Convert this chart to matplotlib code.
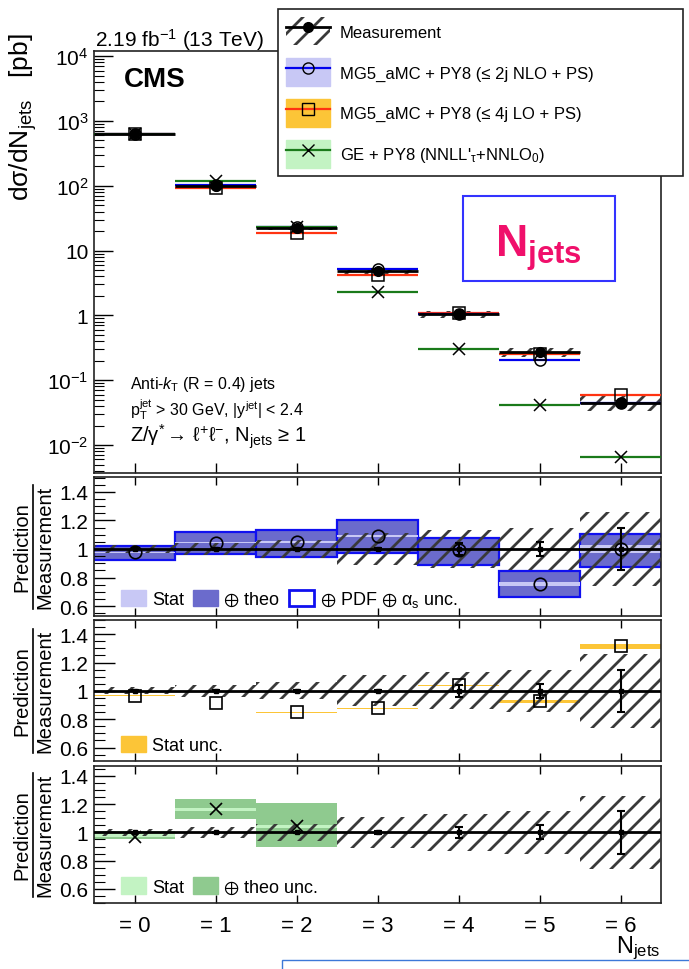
#CMS Z+jets: exclusive jet multiplicity with three ratio panels
import numpy as np
import matplotlib.pyplot as plt
import matplotlib.backend_bases as bb
from matplotlib.patches import Patch, Rectangle
from matplotlib.lines import Line2D
from matplotlib.ticker import FixedLocator, FixedFormatter, MultipleLocator, NullFormatter

plt.rcParams['font.family'] = ['Liberation Sans', 'DejaVu Sans']
plt.rcParams['mathtext.fontset'] = 'custom'
plt.rcParams['mathtext.rm'] = 'Liberation Sans'
plt.rcParams['mathtext.it'] = 'Liberation Sans:italic'
plt.rcParams['mathtext.bf'] = 'Liberation Sans:bold'
plt.rcParams['mathtext.default'] = 'regular'
plt.rcParams['mathtext.fallback'] = 'stixsans'
plt.rcParams['hatch.linewidth'] = 2.0

# denser hatching than the default 6 lines/inch (closer to the ROOT look)
_hatch_path = bb.GraphicsContextBase.get_hatch_path
def _dense_hatch(self, density=6.0):
    return _hatch_path(self, 10.0)
bb.GraphicsContextBase.get_hatch_path = _dense_hatch

# ---- data ----
njets = np.arange(7)
xlabels = ['= 0', '= 1', '= 2', '= 3', '= 4', '= 5', '= 6']
ylog_ticks = [1e-2, 1e-1, 1, 10, 1e2, 1e3, 1e4]
ylog_labels = ['10$^{-2}$', '10$^{-1}$', '1', '10', '10$^{2}$', '10$^{3}$', '10$^{4}$']
ratio_ticks = [0.6, 0.8, 1.0, 1.2, 1.4]
ratio_labels = ['0.6', '0.8', '1', '1.2', '1.4']

meas = np.array([640, 100, 22, 4.8, 1.05, 0.27, 0.045])          # pb
meas_tot = np.array([0.025, 0.04, 0.06, 0.11, 0.13, 0.15, 0.26])  # relative
meas_stat = np.array([0.003, 0.004, 0.005, 0.008, 0.04, 0.05, 0.15])

# MG5_aMC NLO (<=2j)
nlo_r = np.array([0.976, 1.045, 1.05, 1.09, 0.99, 0.753, 1.0])
nlo_stat = np.array([0.005, 0.005, 0.005, 0.006, 0.006, 0.012, 0.03])
nlo_theo_lo = np.array([0.925, 0.965, 0.946, 0.97, 0.887, 0.66, 0.875])
nlo_theo_hi = np.array([1.02, 1.118, 1.134, 1.205, 1.08, 0.845, 1.108])

# MG5_aMC LO (<=4j)
lo_r = np.array([0.967, 0.914, 0.849, 0.877, 1.04, 0.926, 1.314])
lo_stat = np.array([0.003, 0.003, 0.003, 0.003, 0.004, 0.01, 0.02])

# GENEVA
ge_r = np.array([0.97, 1.165, 1.047, 0.479, 0.286, 0.156, 0.144])
ge_bins = np.array([0, 1, 2])
ge_stat_lo = np.array([0.965, 1.148, 1.03])
ge_stat_hi = np.array([1.0, 1.176, 1.05])
ge_theo_lo = np.array([0.953, 1.094, 0.894])
ge_theo_hi = np.array([1.012, 1.235, 1.21])

# colours
c_nlo, c_nlo_stat, c_nlo_theo = '#0000ee', '#c8c8f5', '#6b6bcc'
c_lo, c_lo_band = '#ff3311', '#fcc537'
c_ge, c_ge_stat, c_ge_theo = '#1a7a1a', '#c3f3c3', '#8fca8f'
c_hatch = '#3a3a3a'

W = 689.0
H = 970.0
fig = plt.figure(figsize=(6.89, 9.70), dpi=100)

def rect(top, bottom):
    return [94 / W, 1 - bottom / H, (661 - 94) / W, (bottom - top) / H]

ax = fig.add_axes(rect(52, 474))
r1 = fig.add_axes(rect(478, 617))
r2 = fig.add_axes(rect(621, 762))
r3 = fig.add_axes(rect(767, 904))

# ---- top panel ----
ax.set_yscale('log')
nlo = meas * nlo_r
lo = meas * lo_r
ge = meas * ge_r
ax.bar(njets, 2 * nlo * nlo_stat, bottom=nlo * (1 - nlo_stat), width=1, color=c_nlo_stat, zorder=1)
ax.bar(njets, 2 * lo * lo_stat, bottom=lo * (1 - lo_stat), width=1, color=c_lo_band, zorder=1)
ax.bar(ge_bins, ge[ge_bins] * (ge_stat_hi - ge_stat_lo) / ge_r[ge_bins],
       bottom=ge[ge_bins] * ge_stat_lo / ge_r[ge_bins], width=1, color=c_ge_stat, zorder=1)
ax.bar(njets, 2 * meas * meas_tot, bottom=meas * (1 - meas_tot), width=1,
       facecolor='none', edgecolor=c_hatch, hatch='/', linewidth=0, zorder=2)
ax.hlines(lo, njets - 0.5, njets + 0.5, color=c_lo, lw=1.6, zorder=3)
ax.hlines(nlo, njets - 0.5, njets + 0.5, color=c_nlo, lw=1.6, zorder=3)
ax.hlines(ge, njets - 0.5, njets + 0.5, color=c_ge, lw=1.6, zorder=3)
ax.hlines(meas, njets - 0.5, njets + 0.5, color='k', lw=2, zorder=4)
ax.plot(njets, nlo, 'o', ms=8, mfc='none', mec='k', mew=1.1, zorder=5)
ax.plot(njets, lo, 's', ms=8, mfc='none', mec='k', mew=1.1, zorder=5)
ax.plot(njets, ge, 'x', ms=8, mec='k', mew=1.1, zorder=5)
ax.errorbar(njets, meas, yerr=meas * meas_stat, fmt='o', ms=7, color='k', capsize=2, zorder=6)
ax.set_ylim(3.7e-3, 1.2e4)
ax.set_xlim(-0.5, 6.5)
ax.yaxis.set_major_locator(FixedLocator(ylog_ticks))
ax.yaxis.set_major_formatter(FixedFormatter(ylog_labels))
ax.yaxis.set_minor_formatter(NullFormatter())
ax.tick_params(axis='y', which='major', direction='in', length=14, width=1, labelsize=15, pad=4)
ax.tick_params(axis='y', which='minor', direction='in', length=7, width=0.8)
ax.set_xticks(njets)
ax.tick_params(axis='x', direction='in', length=7, width=1, labelbottom=False)

# ---- ratio panels ----
def style_ratio(a, ylim):
    a.set_xlim(-0.5, 6.5)
    a.set_ylim(*ylim)
    a.set_yticks(ratio_ticks)
    a.set_yticklabels(ratio_labels)
    a.yaxis.set_minor_locator(MultipleLocator(0.05))
    a.tick_params(axis='y', which='major', direction='in', length=15, width=1, labelsize=15, pad=4)
    a.tick_params(axis='y', which='minor', direction='in', length=8, width=0.8)
    a.set_xticks(njets)
    a.tick_params(axis='x', direction='in', length=6, width=1, top=True, labelbottom=False)

def draw_meas(a):
    a.bar(njets, 2 * meas_tot, bottom=1 - meas_tot, width=1, facecolor='none',
          edgecolor=c_hatch, hatch='/', linewidth=0, zorder=3)
    a.axhline(1, color='k', lw=2, zorder=4)
    a.errorbar(njets, np.ones(7), yerr=meas_stat, fmt='s', ms=3, color='k',
               elinewidth=1.5, capsize=3, capthick=1.5, zorder=5)

def in_range(r, ylim):
    return np.where((r > ylim[0]) & (r < ylim[1]), r, np.nan)

def ratio_legend(a, handles, labels):
    a.legend(handles, labels, loc='lower left', bbox_to_anchor=(0.035, 0.0), ncol=len(handles),
             frameon=False, fontsize=13, handlelength=1.4, handleheight=1.0,
             handletextpad=0.3, columnspacing=0.5, borderaxespad=0.2, borderpad=0.2)

# NLO
lim1 = (0.53, 1.505)
r1.bar(njets, nlo_theo_hi - nlo_theo_lo, bottom=nlo_theo_lo, width=1, facecolor=c_nlo_theo,
       edgecolor='#1010f0', linewidth=1.6, zorder=1)
r1.bar(njets, 2 * nlo_stat, bottom=nlo_r - nlo_stat, width=1, color=c_nlo_stat, zorder=2)
draw_meas(r1)
r1.plot(njets, in_range(nlo_r, lim1), 'o', ms=9, mfc='none', mec='k', mew=1.2, zorder=6)
style_ratio(r1, lim1)
ratio_legend(r1, [Patch(color=c_nlo_stat), Patch(color=c_nlo_theo),
                  Patch(facecolor='white', edgecolor='#1010f0', linewidth=2)],
             ['Stat', r'$\oplus$ theo', r'$\oplus$ PDF $\oplus$ $\alpha_s$ unc.'])

# LO
lim2 = (0.505, 1.5)
r2.bar(njets, 2 * lo_stat, bottom=lo_r - lo_stat, width=1, color=c_lo_band, zorder=2)
draw_meas(r2)
r2.plot(njets, in_range(lo_r, lim2), 's', ms=9, mfc='none', mec='k', mew=1.2, zorder=6)
style_ratio(r2, lim2)
ratio_legend(r2, [Patch(color=c_lo_band)], ['Stat unc.'])

# GENEVA
lim3 = (0.5, 1.47)
r3.bar(ge_bins, ge_theo_hi - ge_theo_lo, bottom=ge_theo_lo, width=1, color=c_ge_theo, zorder=1)
r3.bar(ge_bins, ge_stat_hi - ge_stat_lo, bottom=ge_stat_lo, width=1, color=c_ge_stat, zorder=2)
draw_meas(r3)
r3.plot(njets, in_range(ge_r, lim3), 'x', ms=9, mec='k', mew=1.2, zorder=6)
style_ratio(r3, lim3)
r3.set_xticklabels(xlabels)
r3.tick_params(axis='x', labelbottom=True, labelsize=16, pad=9)
ratio_legend(r3, [Patch(color=c_ge_stat), Patch(color=c_ge_theo)], ['Stat', r'$\oplus$ theo unc.'])

for a in [ax, r1, r2, r3]:
    for s in a.spines.values():
        s.set_linewidth(1.2)
        s.set_color('#222222')

# ---- axis titles ----
fig.text(23 / W, 1 - 33 / H, 'dσ/dN$_{jets}$   [pb]', rotation=90, ha='center', va='top', fontsize=19)
for a in [r1, r2, r3]:
    b = a.get_position()
    yc = b.y0 + b.height / 2
    fig.text(22 / W, yc, 'Prediction', rotation=90, ha='center', va='center', fontsize=14.5)
    fig.text(45 / W, yc, 'Measurement', rotation=90, ha='center', va='center', fontsize=14.5)
    fig.add_artist(Line2D([33 / W, 33 / W], [yc - 62 / H, yc + 62 / H], color='k', lw=1.2))
fig.text(660 / W, 1 - 948 / H, 'N$_{jets}$', ha='right', va='center', fontsize=17)

# ---- annotations ----
fig.text(95 / W, 1 - 47 / H, '2.19 fb$^{-1}$ (13 TeV)', fontsize=15, va='baseline')
fig.text(124 / W, 1 - 80 / H, 'CMS', fontsize=20, fontweight='bold', va='center')
fig.text(130 / W, 1 - 385 / H, r'Anti-$\mathit{k}_{T}$ (R = 0.4) jets', fontsize=11.5, va='center')
fig.text(130 / W, 1 - 410 / H, 'p$_{T}^{jet}$ > 30 GeV, |y$^{jet}$| < 2.4', fontsize=11.5, va='center')
fig.text(130 / W, 1 - 437 / H, r'Z/$\gamma^{*}\,$→ ℓ$^{+}$ℓ$^{-}$, N$_{jets}$ ≥ 1', fontsize=14.5, va='center')

fig.add_artist(Rectangle((463 / W, 1 - 282 / H), (615 - 463) / W, (282 - 197) / H,
                         transform=fig.transFigure, fill=False, ec='#3333ff', lw=1.5))
fig.text(495 / W, 1 - 257 / H, r'$\mathbf{N_{jets}}$', fontsize=32, color='#f0106b', va='baseline')
fig.add_artist(Rectangle((282 / W, -0.5), 1.0, 0.5 + 1 - 961 / H,
                         transform=fig.transFigure, fill=False, ec='#3c78d8', lw=1))

# ---- legend ----
handles = [
    (Patch(facecolor='white', edgecolor=c_hatch, hatch='/', linewidth=0),
     Line2D([], [], color='k', lw=2, marker='o', ms=7)),
    (Patch(color=c_nlo_stat), Line2D([], [], color=c_nlo, lw=1.6, marker='o', ms=8, mfc='none', mec='k')),
    (Patch(color=c_lo_band), Line2D([], [], color=c_lo, lw=1.6, marker='s', ms=8, mfc='none', mec='k')),
    (Patch(color=c_ge_stat), Line2D([], [], color=c_ge, lw=1.6, marker='x', ms=8, mec='k')),
]
labels = ['Measurement', 'MG5_aMC + PY8 (≤ 2j NLO + PS)', 'MG5_aMC + PY8 (≤ 4j LO + PS)',
          "GE + PY8 (NNLL'$_{\\tau}$+NNLO$_{0}$)"]
leg = fig.legend(handles, labels, loc='upper left', bbox_to_anchor=(278 / W, 1 - 176 / H, 405 / W, 166 / H),
                 mode='expand', fontsize=12, handlelength=2.6, handleheight=2.2, handletextpad=0.6,
                 labelspacing=0.78, borderpad=0.5, borderaxespad=0, fancybox=False, framealpha=1,
                 edgecolor='#222222')
leg.get_frame().set_linewidth(1.2)

fig.savefig('out.png', dpi=100)
